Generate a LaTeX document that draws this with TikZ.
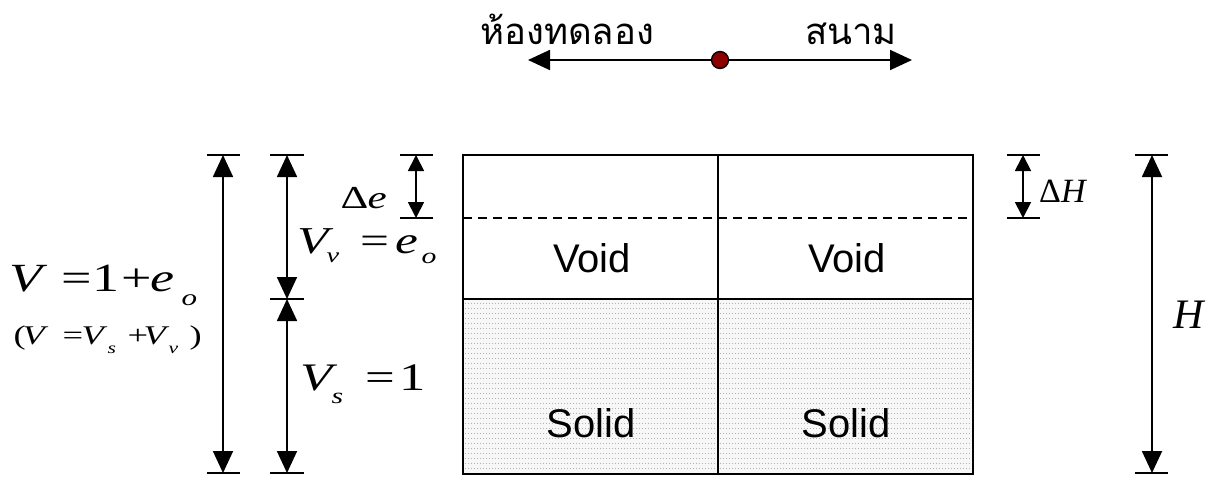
\documentclass[tikz,border=0pt]{standalone}
\usepackage{fontspec}
\setmainfont{Liberation Serif}
\newfontfamily\arialf{Liberation Sans}
\newfontfamily\eqf[FakeStretch=1.35]{Liberation Serif}
\newfontfamily\thaifont[Script=Thai]{Loma}
\usetikzlibrary{arrows.meta}
\tikzset{
  bigtip/.tip={Triangle[width=20pt,length=22pt]},
  smalltip/.tip={Triangle[width=16pt,length=16pt]},
  dim/.style={line width=1.8pt,bigtip-bigtip},
  dimsmall/.style={line width=1.8pt,smalltip-smalltip},
  tick/.style={line width=1.8pt},
  cell/.style={line width=1.8pt},
  lbl/.style={anchor=base west,inner sep=0pt},
  sans/.style={font=\arialf\fontsize{40}{40}\selectfont,inner sep=0pt},
  thai/.style={font=\thaifont\fontsize{36.5}{36.5}\selectfont,inner sep=0pt,anchor=base west},
}
\newcommand{\putg}[2]{\rlap{\hspace*{#1pt}#2}}
\newcommand{\eqs}[1]{\eqf\fontsize{#1}{#1}\selectfont}
\newcommand{\sub}[3]{\raisebox{-#1pt}{\fontsize{#2}{#2}\selectfont\itshape #3}}
\begin{document}
\begin{tikzpicture}[x=1pt,y=-1pt]
\useasboundingbox (0,0) rectangle (1209,477);
% top scale
\node[thai] (lab) at (480,44) {ห้องทดลอง};
\node[thai] (field) at (805,44) {สนาม};
\coordinate (aL) at (528,60);
\coordinate (aR) at (912,60);
\node[circle,draw=black,line width=1.3pt,fill=red!55!black,minimum size=17pt,inner sep=0pt] (dot) at (720,60) {};
\draw[line width=1.8pt,-bigtip] (dot) -- (aL);
\draw[line width=1.8pt,-bigtip] (dot) -- (aR);
% box
\coordinate (TL) at (463,155);
\coordinate (BR) at (973,474);
\fill[gray!6] (463,299) rectangle (973,474);
\foreach \yy in {303,308,...,472}
  \draw[gray!60,line width=0.9pt,dash pattern=on 0.9pt off 2.1pt] (465,\yy) -- (971,\yy);
\draw[cell] (TL) rectangle (BR);
\draw[cell] (718,155) -- (718,474);
\draw[cell] (463,299) -- (973,299);
\draw[line width=1.5pt,dash pattern=on 9pt off 6pt] (463,218) -- (973,218);
\node[sans] (v1) at (592,258) {Void};
\node[sans] (v2) at (847,258) {Void};
\node[sans] (s1) at (591,423) {Solid};
\node[sans] (s2) at (846,423) {Solid};
% dimension 1
\coordinate (d1t) at (223,155); \coordinate (d1b) at (223,473);
\draw[tick] (207,155) -- (240,155);
\draw[tick] (207,473) -- (240,473);
\draw[dim] (d1t) -- (d1b);
% dimension 2
\coordinate (d2t) at (287,155); \coordinate (d2m) at (287,299); \coordinate (d2b) at (287,473);
\draw[tick] (270,155) -- (304,155);
\draw[tick] (270,299) -- (304,299);
\draw[tick] (270,473) -- (304,473);
\draw[dim] (d2t) -- (d2m);
\draw[dim] (d2m) -- (d2b);
% delta e
\coordinate (d3t) at (416,155); \coordinate (d3b) at (416,218);
\draw[tick] (400,155) -- (433,155);
\draw[tick] (400,218) -- (433,218);
\draw[dimsmall] (d3t) -- (d3b);
% delta H
\coordinate (d4t) at (1023,155); \coordinate (d4b) at (1023,218);
\draw[tick] (1007,155) -- (1040,155);
\draw[tick] (1007,218) -- (1040,218);
\draw[dimsmall] (d4t) -- (d4b);
% H
\coordinate (d5t) at (1152,155); \coordinate (d5b) at (1152,473);
\draw[tick] (1135,155) -- (1168,155);
\draw[tick] (1135,473) -- (1168,473);
\draw[dim] (d5t) -- (d5b);
% labels
\node[lbl,font=\eqs{40}] (Veq) at (0,291)
  {\putg{9}{\itshape V}\putg{61}{=}\putg{92}{1}\putg{121}{+}\putg{150}{\itshape e}\putg{181}{\sub{14}{23}{o}}};
\node[lbl,font=\eqs{27}] (Vsum) at (0,344)
  {\putg{13}{(}\putg{22}{\itshape V}\putg{62}{=}\putg{81}{\itshape V}\putg{107}{\sub{9}{16}{s}}\putg{127}{+}\putg{143}{\itshape V}\putg{168}{\sub{9}{16}{v}}\putg{189}{)}};
\node[lbl,font=\eqs{38}] (Vv) at (0,253)
  {\putg{297}{\itshape V}\putg{326}{\sub{9}{21}{v}}\putg{360}{=}\putg{395}{\itshape e}\putg{421}{\sub{10}{22}{o}}};
\node[lbl,font=\eqs{32}] (de) at (0,208)
  {\putg{340}{Δ}\putg{367}{\itshape e}};
\node[lbl,font=\eqs{39}] (Vs) at (0,390)
  {\putg{300}{\itshape V}\putg{331}{\sub{13}{22}{s}}\putg{365}{=}\putg{399}{1}};
\node[lbl,font=\fontsize{34}{34}\selectfont] (dH) at (1039,202) {Δ\textit{H}};
\node[lbl,font=\fontsize{42}{42}\selectfont] (H) at (1173,328) {\textit{H}};
\end{tikzpicture}
\end{document}
